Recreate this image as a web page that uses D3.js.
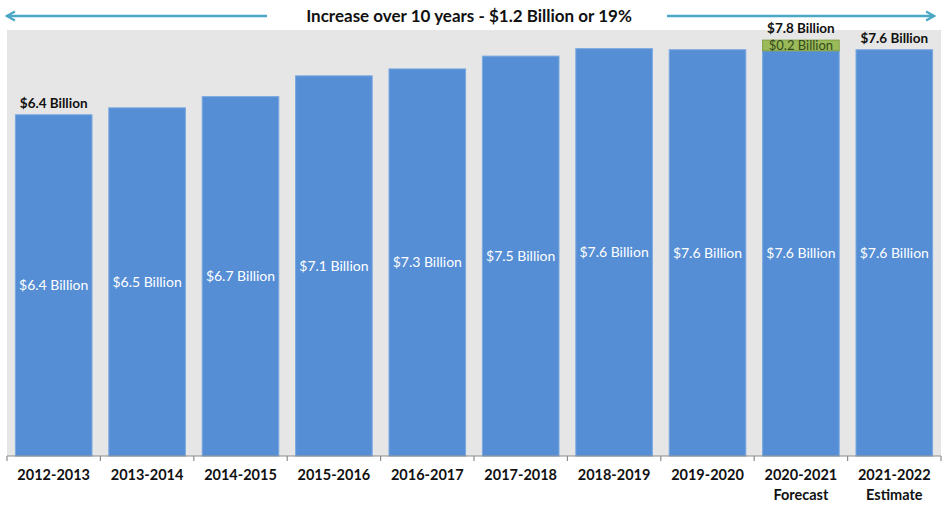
<html>
<head>
<meta charset="utf-8">
<title>Increase over 10 years</title>
<script src="https://d3js.org/d3.v7.min.js"></script>
<style>
body { margin: 0; background: #fff; }
text { font-family: Lato, "Open Sans", sans-serif; }
</style>
</head>
<body>
<svg id="chart" width="943" height="505"></svg>
<script>
// chart data
var years = ["2012-2013", "2013-2014", "2014-2015", "2015-2016", "2016-2017",
             "2017-2018", "2018-2019", "2019-2020", "2020-2021", "2021-2022"];
var subLabels = ["", "", "", "", "", "", "", "", "Forecast", "Estimate"];
var funding = [6.4, 6.53, 6.74, 7.13, 7.26, 7.5, 7.64, 7.62, 7.6, 7.62];
var fundingText = ["$6.4 Billion", "$6.5 Billion", "$6.7 Billion", "$7.1 Billion", "$7.3 Billion",
                   "$7.5 Billion", "$7.6 Billion", "$7.6 Billion", "$7.6 Billion", "$7.6 Billion"];
var extra = [0, 0, 0, 0, 0, 0, 0, 0, 0.2, 0];
var extraText = ["", "", "", "", "", "", "", "", "$0.2 Billion", ""];
var topText = ["$6.4 Billion", "", "", "", "", "", "", "", "$7.8 Billion", "$7.6 Billion"];
var title = "Increase over 10 years - $1.2 Billion or 19%";

var svg = d3.select("#chart");
var plotLeft = 7, plotRight = 941, plotTop = 30, plotBottom = 456;

var x = d3.scaleBand().domain(years).range([plotLeft, plotRight]).paddingInner(0.18).paddingOuter(0.09);
var y = d3.scaleLinear().domain([0, 7.99]).range([plotBottom, plotTop]);

// gray plot area
svg.append("rect")
  .attr("x", plotLeft).attr("y", plotTop)
  .attr("width", plotRight - plotLeft).attr("height", plotBottom - plotTop)
  .attr("fill", "#e6e6e6");

// main bars
svg.append("g").selectAll("rect")
  .data(years)
  .enter().append("rect")
  .attr("x", function(d) { return x(d); })
  .attr("y", function(d, i) { return y(funding[i]); })
  .attr("width", x.bandwidth())
  .attr("height", function(d, i) { return plotBottom - y(funding[i]); })
  .attr("fill", "#558ed5")
  .attr("stroke", "#7aa8e0")
  .attr("stroke-width", 1);

// forecast extra piece
svg.append("g").selectAll("rect")
  .data(years.filter(function(d, i) { return extra[i] > 0; }))
  .enter().append("rect")
  .attr("x", function(d) { return x(d); })
  .attr("y", function(d) { var i = years.indexOf(d); return y(funding[i] + extra[i]); })
  .attr("width", x.bandwidth())
  .attr("height", function(d) { var i = years.indexOf(d); return y(funding[i]) - y(funding[i] + extra[i]); })
  .attr("fill", "#9bbb59")
  .attr("stroke", "#7f9f40")
  .attr("stroke-width", 1);

svg.append("g").selectAll("text")
  .data(years.filter(function(d, i) { return extra[i] > 0; }))
  .enter().append("text")
  .attr("x", function(d) { return x(d) + x.bandwidth() / 2; })
  .attr("y", function(d) { var i = years.indexOf(d); return (y(funding[i]) + y(funding[i] + extra[i])) / 2 + 4.5; })
  .attr("text-anchor", "middle")
  .attr("font-size", 13)
  .attr("fill", "#34491c")
  .text(function(d) { return extraText[years.indexOf(d)]; });

// labels inside bars
svg.append("g").selectAll("text")
  .data(years)
  .enter().append("text")
  .attr("x", function(d) { return x(d) + x.bandwidth() / 2; })
  .attr("y", function(d, i) { return (y(funding[i]) + plotBottom) / 2 + 5; })
  .attr("text-anchor", "middle")
  .attr("font-size", 14)
  .attr("fill", "#ffffff")
  .text(function(d, i) { return fundingText[i]; });

// labels above bars
svg.append("g").selectAll("text")
  .data(years)
  .enter().append("text")
  .attr("x", function(d) { return x(d) + x.bandwidth() / 2; })
  .attr("y", function(d, i) { return y(funding[i] + extra[i]) - 7; })
  .attr("text-anchor", "middle")
  .attr("font-size", 13.5)
  .attr("font-weight", "bold")
  .attr("fill", "#111")
  .text(function(d, i) { return topText[i]; });

// x axis
var xAxis = svg.append("g").attr("transform", "translate(0," + plotBottom + ")");
xAxis.append("line")
  .attr("x1", plotLeft).attr("x2", plotRight)
  .attr("stroke", "#8c8c8c").attr("stroke-width", 1.2);
xAxis.selectAll(".tick")
  .data(d3.range(years.length + 1))
  .enter().append("line")
  .attr("x1", function(i) { return plotLeft + i * (plotRight - plotLeft) / years.length; })
  .attr("x2", function(i) { return plotLeft + i * (plotRight - plotLeft) / years.length; })
  .attr("y1", 0).attr("y2", 5)
  .attr("stroke", "#8c8c8c").attr("stroke-width", 1.2);

xAxis.selectAll(".lab")
  .data(years)
  .enter().append("text")
  .attr("x", function(d) { return x(d) + x.bandwidth() / 2; })
  .attr("y", 24)
  .attr("text-anchor", "middle")
  .attr("font-size", 14.5)
  .attr("font-weight", "bold")
  .attr("fill", "#111")
  .text(function(d) { return d; });

xAxis.selectAll(".sub")
  .data(years)
  .enter().append("text")
  .attr("x", function(d) { return x(d) + x.bandwidth() / 2; })
  .attr("y", 44)
  .attr("text-anchor", "middle")
  .attr("font-size", 14.5)
  .attr("font-weight", "bold")
  .attr("fill", "#111")
  .text(function(d, i) { return subLabels[i]; });

// title with arrows
svg.append("defs").append("marker")
  .attr("id", "head")
  .attr("viewBox", "0 0 10 10")
  .attr("refX", 8).attr("refY", 5)
  .attr("markerWidth", 4.5).attr("markerHeight", 4.5)
  .attr("orient", "auto-start-reverse")
  .append("path")
  .attr("d", "M1,1 L8,5 L1,9")
  .attr("fill", "none")
  .attr("stroke", "#4aa8c4")
  .attr("stroke-width", 2);

svg.append("line")
  .attr("x1", 267).attr("x2", 7).attr("y1", 16).attr("y2", 16)
  .attr("stroke", "#4aa8c4").attr("stroke-width", 2.5)
  .attr("marker-end", "url(#head)");
svg.append("line")
  .attr("x1", 667).attr("x2", 934).attr("y1", 16).attr("y2", 16)
  .attr("stroke", "#4aa8c4").attr("stroke-width", 2.5)
  .attr("marker-end", "url(#head)");

svg.append("text")
  .attr("x", 469).attr("y", 22)
  .attr("text-anchor", "middle")
  .attr("font-size", 17)
  .attr("font-weight", "bold")
  .attr("fill", "#111")
  .text(title);
</script>
</body>
</html>
